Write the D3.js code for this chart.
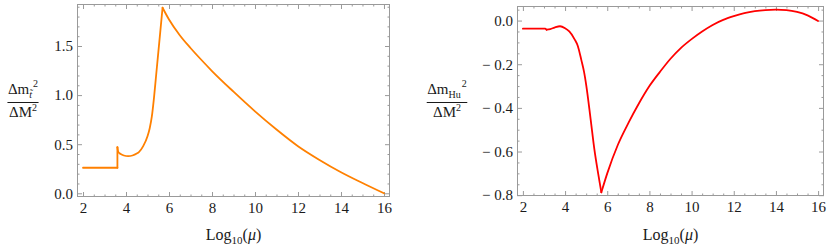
<!DOCTYPE html>
<html>
<head>
<meta charset="utf-8">
<script src="https://cdn.jsdelivr.net/npm/d3@7"></script>
<style>
  body { margin: 0; background: #fff; }
  svg { display: block; }
  svg text { font-family: "Liberation Serif", "Times New Roman", serif !important; }
</style>
</head>
<body>
<script>

var width = 830,
    height = 245;

// shared x axis, log10 of the scale mu
var xTickValues = [2, 4, 6, 8, 10, 12, 14, 16];

// left panel: delta m_stop^2 / delta M^2
var stopMu  = [2.0, 3.6, 3.6, 3.64, 3.75, 3.9, 4.1, 4.3, 4.5, 4.6, 4.8, 5.0, 5.1, 5.2, 5.3, 5.4, 5.5, 5.6, 5.7,
               6.0, 6.5, 7.0, 7.5, 8.0, 9.0, 10.0, 11.0, 12.0, 13.0, 14.0, 15.0, 16.0];
var stopVal = [0.26, 0.26, 0.47, 0.42, 0.40, 0.385, 0.378, 0.385, 0.405, 0.42, 0.48, 0.58, 0.66, 0.78, 0.97, 1.20, 1.43, 1.66, 1.89,
               1.77, 1.61, 1.48, 1.36, 1.245, 1.035, 0.835, 0.65, 0.48, 0.34, 0.215, 0.105, 0.0];
var stopCorners = [3.6, 5.7];
var stopTicks = [0, 0.5, 1.0, 1.5];

// right panel: delta m_Hu^2 / delta M^2
var huMu  = [2.0, 3.05, 3.12, 3.3, 3.5, 3.76, 4.0, 4.2, 4.46, 4.6, 4.77, 4.9, 5.01, 5.21, 5.39, 5.55, 5.72,
             6.0, 6.5, 7.0, 7.5, 8.0, 8.5, 9.0, 9.5, 10.0, 10.5, 11.0, 11.5, 12.0, 12.5, 13.0, 13.5, 14.0, 14.5, 15.0, 15.5, 16.0];
var huVal = [-0.037, -0.037, -0.042, -0.039, -0.032, -0.026, -0.035, -0.05, -0.087, -0.115, -0.18, -0.235, -0.30, -0.45, -0.59, -0.69, -0.787,
             -0.70, -0.57, -0.47, -0.38, -0.30, -0.235, -0.175, -0.125, -0.085, -0.05, -0.02, 0.003, 0.02, 0.034, 0.043, 0.048, 0.05, 0.048, 0.04, 0.024, -0.002];
var huCorners = [3.12, 5.72];
var huTicks = [0, -0.2, -0.4, -0.6, -0.8];

var frameColor = "#9a9a9a";

var svg = d3.select("body").append("svg")
    .attr("width", width)
    .attr("height", height);

// split a series into pieces at its sharp corners so the smoothing keeps them sharp
function pieces(xs, ys, corners) {
    var out = [], cur = [];
    for (var i = 0; i < xs.length; i++) {
        var p = [xs[i], ys[i]];
        cur.push(p);
        if (i > 0 && i < xs.length - 1 && corners.indexOf(xs[i]) >= 0) {
            out.push(cur);
            cur = [p];
        }
    }
    out.push(cur);
    return out;
}

function padded(lo, hi) {
    var pad = (hi - lo) * 0.02;
    return [lo - pad, hi + pad];
}

function minorTicks(lo, hi, step, majors) {
    return d3.range(Math.ceil(lo / step), Math.floor(hi / step) + 1)
        .map(function(k) { return +(k * step).toFixed(4); })
        .filter(function(v) {
            return !majors.some(function(m) { return Math.abs(m - v) < 1e-6; });
        });
}

function fmt(d) {
    var s = d3.format(".1f")(Math.abs(d));
    return d < 0 ? "\u2212 " + s : s;
}

function panel(opt) {
    var g = svg.append("g")
        .attr("transform", "translate(" + opt.left + "," + opt.top + ")");

    var w = opt.w, h = opt.h;

    var x = d3.scaleLinear()
        .domain(padded(2, 16))
        .range([0, w]);

    var y = d3.scaleLinear()
        .domain(padded(d3.min(opt.ys), d3.max(opt.ys)))
        .range([h, 0]);

    var xMinor = minorTicks(x.domain()[0], x.domain()[1], 0.5, xTickValues);
    var yMinor = minorTicks(y.domain()[0], y.domain()[1], opt.yMinorStep, opt.yTicks);

    function styleAxis(sel) {
        sel.attr("font-family", null).attr("font-size", null);
        sel.select(".domain").remove();
        sel.selectAll(".tick line").attr("stroke", frameColor);
        sel.selectAll(".tick text")
            .attr("fill", "#1a1a1a")
            .style("font-size", "15px");
    }

    // major ticks with labels (bottom, left)
    g.append("g")
        .attr("transform", "translate(0," + h + ")")
        .call(d3.axisBottom(x).tickValues(xTickValues).tickSize(-5).tickPadding(5).tickFormat(d3.format("d")))
        .call(styleAxis);
    g.append("g")
        .call(d3.axisLeft(y).tickValues(opt.yTicks).tickSize(-5).tickPadding(4).tickFormat(fmt))
        .call(styleAxis);

    // mirrored ticks (top, right)
    g.append("g")
        .call(d3.axisTop(x).tickValues(xTickValues).tickSize(-5).tickFormat(""))
        .call(styleAxis);
    g.append("g")
        .attr("transform", "translate(" + w + ",0)")
        .call(d3.axisRight(y).tickValues(opt.yTicks).tickSize(-5).tickFormat(""))
        .call(styleAxis);

    // minor ticks on all four sides
    g.append("g")
        .attr("transform", "translate(0," + h + ")")
        .call(d3.axisBottom(x).tickValues(xMinor).tickSize(-2.5).tickFormat(""))
        .call(styleAxis);
    g.append("g")
        .call(d3.axisTop(x).tickValues(xMinor).tickSize(-2.5).tickFormat(""))
        .call(styleAxis);
    g.append("g")
        .call(d3.axisLeft(y).tickValues(yMinor).tickSize(-2.5).tickFormat(""))
        .call(styleAxis);
    g.append("g")
        .attr("transform", "translate(" + w + ",0)")
        .call(d3.axisRight(y).tickValues(yMinor).tickSize(-2.5).tickFormat(""))
        .call(styleAxis);

    g.append("rect")
        .attr("x", 0.5)
        .attr("y", 0.5)
        .attr("width", w - 1)
        .attr("height", h - 1)
        .attr("fill", "none")
        .attr("stroke", frameColor)
        .attr("stroke-width", 1);

    var line = d3.line()
        .x(function(d) { return x(d[0]); })
        .y(function(d) { return y(d[1]); })
        .curve(d3.curveMonotoneX);

    g.selectAll("path.curve")
        .data(pieces(opt.xs, opt.ys, opt.corners))
        .enter().append("path")
            .attr("class", "curve")
            .attr("d", line)
            .attr("fill", "none")
            .attr("stroke", opt.color)
            .attr("stroke-width", 1.8)
            .attr("stroke-linejoin", "round")
            .attr("stroke-linecap", "round");

    // x axis label Log10(mu)
    var xl = svg.append("text")
        .attr("x", opt.left + w / 2)
        .attr("y", 240)
        .attr("text-anchor", "middle")
        .style("font-size", "16px")
        .attr("fill", "#1a1a1a");
    xl.append("tspan").text("Log");
    xl.append("tspan").attr("dy", 4).style("font-size", "11px").text("10");
    xl.append("tspan").attr("dy", -4).text("(");
    xl.append("tspan").style("font-style", "italic").text("\u03bc");
    xl.append("tspan").text(")");

    // y axis label as a fraction
    var cx = opt.labelX;
    var num = svg.append("text")
        .attr("x", cx)
        .attr("y", 94)
        .attr("text-anchor", "middle")
        .style("font-size", "15px")
        .attr("fill", "#1a1a1a");
    num.append("tspan").text("\u0394m");
    num.append("tspan").attr("dy", 4).style("font-size", "10px")
        .style("font-style", opt.subItalic ? "italic" : "normal").text(opt.sub);
    num.append("tspan").attr("dy", -11).attr("dx", 1).style("font-size", "10px").text("2");

    var den = svg.append("text")
        .attr("x", cx)
        .attr("y", 117)
        .attr("text-anchor", "middle")
        .style("font-size", "15px")
        .attr("fill", "#1a1a1a");
    den.append("tspan").text("\u0394M");
    den.append("tspan").attr("dy", -6).style("font-size", "10px").text("2");

    var nw = num.node().getComputedTextLength();
    svg.append("line")
        .attr("x1", cx - nw / 2 - 1)
        .attr("x2", cx + nw / 2 + 1)
        .attr("y1", 102.5)
        .attr("y2", 102.5)
        .attr("stroke", "#1a1a1a")
        .attr("stroke-width", 1);
}

panel({
    left: 77, top: 4, w: 313, h: 193,
    xs: stopMu, ys: stopVal, corners: stopCorners,
    yTicks: stopTicks, yMinorStep: 0.1,
    color: "#ff8000",
    labelX: 23, sub: "t\u0303", subItalic: true
});

panel({
    left: 517, top: 6, w: 307, h: 190,
    xs: huMu, ys: huVal, corners: huCorners,
    yTicks: huTicks, yMinorStep: 0.05,
    color: "#ff0000",
    labelX: 447, sub: "Hu", subItalic: false
});

</script>
</body>
</html>
